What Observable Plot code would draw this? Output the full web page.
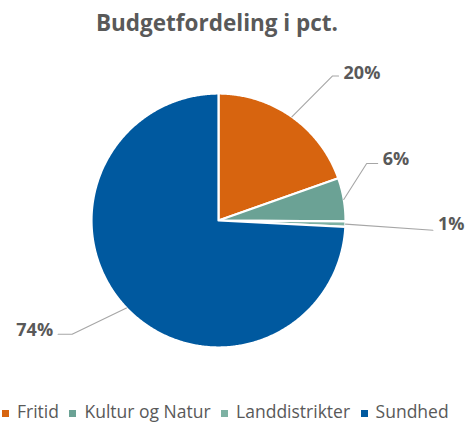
<!DOCTYPE html>
<html><head><meta charset="utf-8">
<script src="https://cdn.jsdelivr.net/npm/d3@7"></script>
<script src="https://cdn.jsdelivr.net/npm/@observablehq/plot@0.6"></script>
<style>
body{margin:0;background:#fff;}
#wrap{position:relative;width:465px;height:423px;overflow:hidden;font-family:"Open Sans",sans-serif;color:#595959;}
#title{position:absolute;left:0;width:434px;top:7px;text-align:center;font-weight:bold;font-size:22.5px;line-height:32px;white-space:nowrap;}
#chart{position:absolute;left:0;top:45px;}
#legend{position:absolute;left:2px;top:401.5px;display:flex;align-items:center;font-size:17.5px;line-height:18px;height:18px;white-space:nowrap;}
.item{display:flex;align-items:center;margin-right:10.5px;}
.sw{width:7px;height:7px;margin-right:8px;margin-top:5px;}
</style></head>
<body><div id="wrap"><div id="title">Budgetfordeling i pct.</div><div id="chart"></div><div id="legend"></div></div>
<script>
// ---- data ----
const categories = ["Fritid", "Kultur og Natur", "Landdistrikter", "Sundhed"];
const values = [19.6, 5.5, 0.7, 74.2];
const colors = ["#D7640F", "#6BA295", "#7DB1A3", "#00599F"];

// ---- layout ----
const W = 465, H = 345, CX = 218, CY = 175, R = 127;
const labelNudge = [3, -11.5, 1, 5.7];        // degrees, elbow angle offset from slice mid-angle
const labelRadius = [1.45, 1.25, 1.69, 1.46]; // elbow radius (pie radius = 1)
const labelTail = [6, 11, 0, 14];             // px, horizontal tail
const labelDy = [-3, -4, -6, -4];             // px, text offset from tail

const data = categories.map((c, i) => ({cat: c, value: values[i]}));
const arcs = d3.pie().sort(null).value(d => d.value)(data);

const slicePts = [];
arcs.forEach(a => {
  const n = Math.max(2, Math.ceil((a.endAngle - a.startAngle) / (Math.PI / 360)));
  slicePts.push({cat: a.data.cat, x: 0, y: 0});
  for (let i = 0; i <= n; i++) {
    const t = a.startAngle + (a.endAngle - a.startAngle) * i / n;
    slicePts.push({cat: a.data.cat, x: Math.sin(t), y: Math.cos(t)});
  }
  slicePts.push({cat: a.data.cat, x: 0, y: 0});
});

const leaderPts = [];
const labels = [];
arcs.forEach((a, i) => {
  const mid = (a.startAngle + a.endAngle) / 2;
  const e = mid + labelNudge[i] * Math.PI / 180;
  const ex = labelRadius[i] * Math.sin(e), ey = labelRadius[i] * Math.cos(e);
  const side = ex >= 0 ? 1 : -1;
  const tx = ex + side * labelTail[i] / R;
  leaderPts.push({k: i, x: Math.sin(mid), y: Math.cos(mid)});
  leaderPts.push({k: i, x: ex, y: ey});
  leaderPts.push({k: i, x: tx, y: ey});
  labels.push({x: tx, y: ey, side, dy: labelDy[i], text: Math.round(a.data.value) + "%"});
});

const chart = Plot.plot({
  width: W, height: H,
  margin: 0,
  x: {domain: [-CX / R, (W - CX) / R], axis: null},
  y: {domain: [(CY - H) / R, CY / R], axis: null},
  color: {domain: categories, range: colors},
  style: {background: "transparent", overflow: "visible"},
  marks: [
    Plot.line(slicePts, {x: "x", y: "y", z: "cat", fill: "cat", stroke: "white", strokeWidth: 2.2, curve: "linear"}),
    Plot.line(leaderPts, {x: "x", y: "y", z: "k", stroke: "#A6A6A6", strokeWidth: 1.1, curve: "linear"}),
    ...labels.map(l => Plot.text([l], {
      x: "x", y: "y", text: "text",
      textAnchor: l.side > 0 ? "start" : "end",
      dx: l.side * 5, dy: l.dy,
      fill: "#595959", fontSize: 18, fontWeight: "bold", fontFamily: "Open Sans"
    }))
  ]
});
document.getElementById("chart").appendChild(chart);

// legend from the plot's colour scale
const cs = chart.scale("color");
const lg = d3.select("#legend");
cs.domain.forEach((c, i) => {
  const it = lg.append("div").attr("class", "item");
  it.append("div").attr("class", "sw").style("background", cs.range[i]);
  it.append("span").text(c);
});
</script>
</body></html>
